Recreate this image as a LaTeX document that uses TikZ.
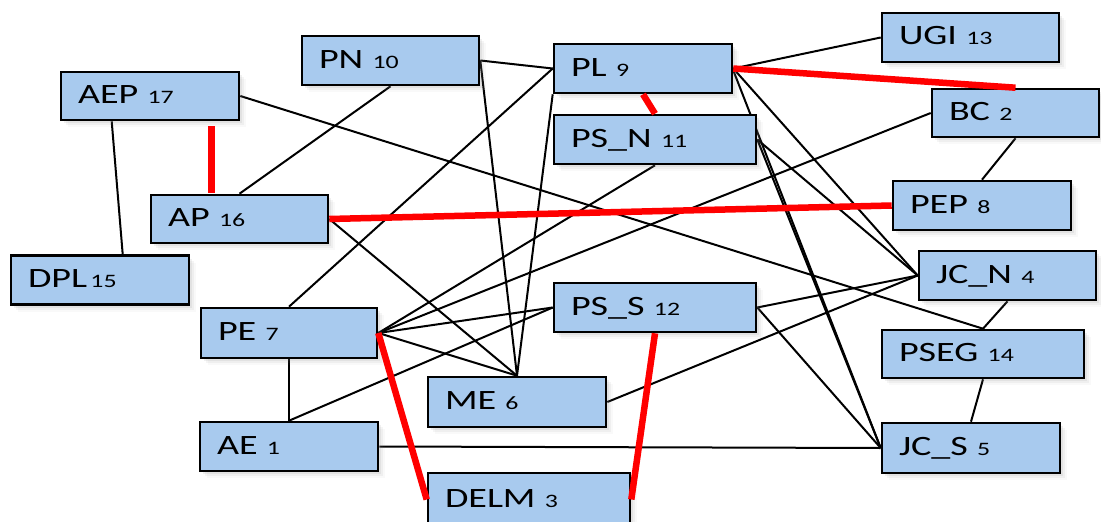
\documentclass[tikz,border=0pt]{standalone}
\usepackage{fontspec}
\setmainfont{Carlito}[FakeStretch=1.36]
\usetikzlibrary{shadows,backgrounds}
\definecolor{boxblue}{RGB}{168,202,238}
\definecolor{linkred}{RGB}{255,0,0}
\newcommand{\nb}[1]{{\fontsize{19}{19}\selectfont #1}}
\begin{document}
\begin{tikzpicture}[x=1pt,y=-1pt,
  box/.style={draw=black, line width=2.6pt, fill=boxblue, inner xsep=17pt, inner ysep=0pt,
    text height=19pt, text depth=4pt, align=left, anchor=center,
    font=\fontsize{28}{28}\selectfont,
    drop shadow={shadow xshift=7pt, shadow yshift=-7pt, opacity=0.05},
    drop shadow={shadow xshift=5pt, shadow yshift=-5pt, opacity=0.08},
    drop shadow={shadow xshift=3pt, shadow yshift=-3pt, opacity=0.12}},
  link/.style={line width=2pt, draw=black},
  hot/.style={line width=6.5pt, draw=linkred}]
\useasboundingbox (0,0) rectangle (1101,522);

\node[box, minimum height=48pt, text width=144pt] (AEP)  at (150,96)     {AEP \nb{17}};
\node[box, minimum height=49pt, text width=143pt] (PN)   at (390.5,60.5) {PN \nb{10}};
\node[box, minimum height=49pt, text width=144pt] (PL)   at (643,68.5)   {PL \nb{9}};
\node[box, minimum height=49pt, text width=168pt] (PSN)  at (655,139.5)  {PS\_N \nb{11}};
\node[box, minimum height=49pt, text width=143pt] (UGI)  at (970.5,37.5) {UGI \nb{13}};
\node[box, minimum height=48pt, text width=133pt] (BC)   at (1015.5,113) {BC \nb{2}};
\node[box, minimum height=49pt, text width=144pt] (PEP)  at (982,205.5)  {PEP \nb{8}};
\node[box, minimum height=48pt, text width=143pt] (AP)   at (239.5,219)  {AP \nb{16}};
\node[box, minimum height=49pt, text width=144pt] (DPL)  at (100,280)    {DPL\hspace{0.12em}\nb{15}};
\node[box, minimum height=49pt, text width=143pt] (JCN)  at (1007.5,275.5) {JC\_N \nb{4}};
\node[box, minimum height=49pt, text width=168pt] (PSS)  at (655,307.5)  {PS\_S \nb{12}};
\node[box, minimum height=50pt, text width=142pt] (PE)   at (289,333)    {PE \nb{7}};
\node[box, minimum height=48pt, text width=168pt] (PSEG) at (983,354)    {PSEG \nb{14}};
\node[box, minimum height=50pt, text width=144pt] (ME)   at (517,402)    {ME \nb{6}};
\node[box, minimum height=49pt, text width=144pt] (AE)   at (289,446.5)  {AE \nb{1}};
\node[box, minimum height=50pt, text width=144pt] (JCS)  at (971,448)    {JC\_S \nb{5}};
\node[box, minimum height=53pt, text width=168pt] (DELM) at (529,499.5)  {DELM \nb{3}};

% black connectors (behind the boxes)
\begin{scope}[on background layer]
\draw[link] ([xshift=52pt]AEP.south west) -- ([xshift=113pt]DPL.north west);
\draw[link] (AEP.east) -- (PSEG.north);
\draw[link] (AP.north) -- (PN.south);
\draw[link] (AP.east) -- (ME.north);
\draw[link] (PN.east) -- (PL.west);
\draw[link] (PN.east) -- (ME.north);
\draw[link] (PL.east) -- (UGI.west);
\draw[link] (PL.west) -- (PE.north);
\draw[link] (PL.south west) -- (ME.north);
\draw[link] (PL.east) -- (JCN.west);
\draw[link] ([yshift=-2pt]PL.east) -- (JCS.west);
\draw[link] (PSN.east) -- (JCN.west);
\draw[link] (PSN.east) -- (JCS.west);
\draw[link] (PSN.south) -- (PE.east);
\draw[link] (BC.west) -- (PE.east);
\draw[link] (BC.south) -- (PEP.north);
\draw[link] (ME.east) -- (JCN.west);
\draw[link] (PSS.east) -- (JCN.west);
\draw[link] (PSS.east) -- (JCS.west);
\draw[link] (PSS.west) -- (PE.east);
\draw[link] (PSS.west) -- (AE.north);
\draw[link] (PE.south) -- (AE.north);
\draw[link] (PE.east) -- (ME.north);
\draw[link] (AE.east) -- (JCS.west);
\draw[link] (PSEG.north) -- (JCN.south);
\draw[link] (PSEG.south) -- (JCS.north);
\end{scope}

% red connectors
\draw[hot] ([xshift=152pt,yshift=-5pt]AEP.south west) -- ([xshift=62pt,yshift=1pt]AP.north west);
\draw[hot] (AP.east) -- (PEP.west);
\draw[hot] (PL.south) -- (PSN.north);
\draw[hot] (PL.east) -- (BC.north);
\draw[hot] (PE.east) -- (DELM.west);
\draw[hot] (PSS.south) -- (DELM.east);
\end{tikzpicture}
\end{document}
